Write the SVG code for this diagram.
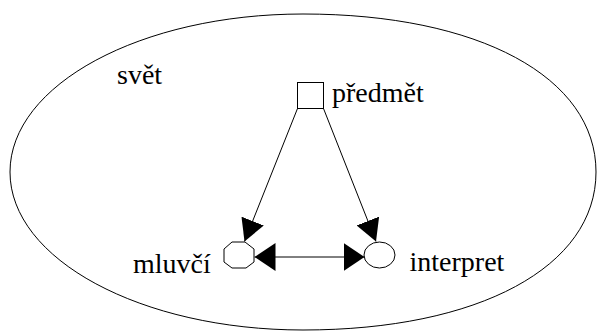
<svg xmlns="http://www.w3.org/2000/svg" width="597" height="331" viewBox="0 0 597 331" font-family="'Liberation Serif', serif" font-size="28">
<defs>
<marker id="ad" markerUnits="userSpaceOnUse" markerWidth="22" markerHeight="24" refX="22" refY="12" orient="auto" viewBox="0 0 22 24">
<path d="M0,0 L22,12 L0,24 z" fill="#000"/>
</marker>
<marker id="ah" markerUnits="userSpaceOnUse" markerWidth="21" markerHeight="28" refX="21" refY="14" orient="auto-start-reverse" viewBox="0 0 21 28">
<path d="M0,0 L21,14 L0,28 z" fill="#000"/>
</marker>
</defs>
<rect width="597" height="331" fill="#fff"/>
<g id="svet" font-family="'Liberation Serif', serif">
<path d="M596,172 C596,77.2 478.8,14 303,14 C141.2,14 10,84.7 10,172 C10,259.3 141.2,330 303,330 C478.8,330 596,266.8 596,172 Z" fill="none" stroke="#000" stroke-width="1"/>
<text x="117" y="84" font-family="'Liberation Serif', serif" font-size="28" fill="#000">svět</text>
</g>
<g id="connectors" fill="none" stroke="#000" stroke-width="1">
<line x1="297.5" y1="108.5" x2="244.5" y2="241.5" marker-end="url(#ad)"/>
<line x1="323.5" y1="108.5" x2="376" y2="241.5" marker-end="url(#ad)"/>
<line x1="254.5" y1="257" x2="364.5" y2="257" marker-start="url(#ah)" marker-end="url(#ah)"/>
</g>
<g id="predmet" font-family="'Liberation Serif', serif">
<rect x="297.5" y="82.5" width="26" height="26" fill="#fff" stroke="#000"/>
<text x="332" y="102" font-family="'Liberation Serif', serif" font-size="28" fill="#000">předmět</text>
</g>
<g id="mluvci" font-family="'Liberation Serif', serif">
<polygon points="232,242 245,242 254,249 254,262 246,268 232,268 224,262 224,249" fill="#fff" stroke="#000"/>
<text x="133" y="273" font-family="'Liberation Serif', serif" font-size="28" fill="#000">mluvčí</text>
</g>
<g id="interpret" font-family="'Liberation Serif', serif">
<ellipse cx="379.5" cy="255" rx="15.5" ry="13" fill="#fff" stroke="#000"/>
<text x="409.5" y="271" font-family="'Liberation Serif', serif" font-size="28" fill="#000">interpret</text>
</g>
</svg>
